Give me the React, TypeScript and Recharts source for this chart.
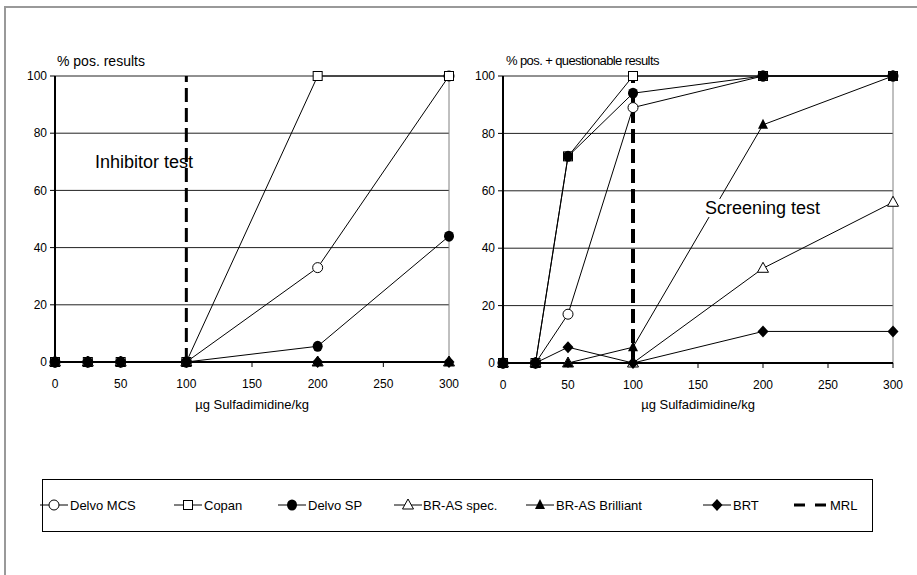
import React from "react";
import { LineChart, Line, XAxis, YAxis, CartesianGrid, ReferenceLine } from "recharts";

// doses (µg Sulfadimidine/kg)
const doses = [0, 25, 50, 100, 200, 300];
const xTicks = [0, 50, 100, 150, 200, 250, 300];
const yTicks = [0, 20, 40, 60, 80, 100];
const mrlDose = 100;

// Inhibitor test: % positive results
const inhDelvoMcs = [0, 0, 0, 0, 33, 100];
const inhCopan = [0, 0, 0, 0, 100, 100];
const inhDelvoSp = [0, 0, 0, 0, 5.5, 44];
const inhBrasSpec = [0, 0, 0, 0, 0, 0];
const inhBrasBrilliant = [0, 0, 0, 0, 0, 0];
const inhBrt = [0, 0, 0, 0, 0, 0];

// Screening test: % positive + questionable results
const scrDelvoMcs = [0, 0, 17, 89, 100, 100];
const scrCopan = [0, 0, 72, 100, 100, 100];
const scrDelvoSp = [0, 0, 72, 94, 100, 100];
const scrBrasSpec = [0, 0, 0, 0, 33, 56];
const scrBrasBrilliant = [0, 0, 0, 5.5, 83, 100];
const scrBrt = [0, 0, 5.5, 0, 11, 11];

type MarkerKind = "circleOpen" | "squareOpen" | "circleFilled" | "triOpen" | "triFilled" | "diamond";

const SERIES: { key: string; name: string; marker: MarkerKind }[] = [
  { key: "delvoMcs", name: "Delvo MCS", marker: "circleOpen" },
  { key: "copan", name: "Copan", marker: "squareOpen" },
  { key: "delvoSp", name: "Delvo SP", marker: "circleFilled" },
  { key: "brasSpec", name: "BR-AS spec.", marker: "triOpen" },
  { key: "brasBrilliant", name: "BR-AS Brilliant", marker: "triFilled" },
  { key: "brt", name: "BRT", marker: "diamond" },
];

function buildRows(cols: Record<string, number[]>) {
  return doses.map((x, i) => {
    const row: Record<string, number> = { x };
    for (const k of Object.keys(cols)) row[k] = cols[k][i];
    return row;
  });
}

const inhibitorRows = buildRows({
  delvoMcs: inhDelvoMcs,
  copan: inhCopan,
  delvoSp: inhDelvoSp,
  brasSpec: inhBrasSpec,
  brasBrilliant: inhBrasBrilliant,
  brt: inhBrt,
});

const screeningRows = buildRows({
  delvoMcs: scrDelvoMcs,
  copan: scrCopan,
  delvoSp: scrDelvoSp,
  brasSpec: scrBrasSpec,
  brasBrilliant: scrBrasBrilliant,
  brt: scrBrt,
});

function Marker({ kind, cx, cy }: { kind: MarkerKind; cx: number; cy: number }) {
  switch (kind) {
    case "circleOpen":
      return <circle cx={cx} cy={cy} r={5} fill="#fff" stroke="#000" strokeWidth={1} />;
    case "squareOpen":
      return <rect x={cx - 4.5} y={cy - 4.5} width={9} height={9} fill="#fff" stroke="#000" strokeWidth={1} />;
    case "circleFilled":
      return <ellipse cx={cx} cy={cy} rx={5} ry={5.5} fill="#000" />;
    case "triOpen":
      return (
        <polygon
          points={`${cx},${cy - 6} ${cx - 5.5},${cy + 4} ${cx + 5.5},${cy + 4}`}
          fill="#fff"
          stroke="#000"
          strokeWidth={1}
        />
      );
    case "triFilled":
      return <polygon points={`${cx},${cy - 6} ${cx - 5},${cy + 4} ${cx + 5},${cy + 4}`} fill="#000" />;
    default:
      return <polygon points={`${cx},${cy - 6} ${cx + 5.5},${cy} ${cx},${cy + 6} ${cx - 5.5},${cy}`} fill="#000" />;
  }
}

const tickStyle = { fontSize: 12, fill: "#000" };

function Panel({
  rows,
  width,
  height,
  margin,
  mrlWidth,
}: {
  rows: Record<string, number>[];
  width: number;
  height: number;
  margin: { top: number; right: number; bottom: number; left: number };
  mrlWidth: number;
}) {
  return (
    <LineChart width={width} height={height} data={rows} margin={margin}>
      <CartesianGrid vertical={false} stroke="#222" strokeWidth={1} />
      <XAxis
        type="number"
        dataKey="x"
        domain={[0, 300]}
        ticks={xTicks}
        tick={tickStyle}
        tickSize={5}
        tickMargin={12}
        height={30}
        axisLine={{ stroke: "#000", strokeWidth: 2 }}
        tickLine={{ stroke: "#000" }}
      />
      <YAxis
        type="number"
        domain={[0, 100]}
        ticks={yTicks}
        tick={tickStyle}
        tickSize={5}
        tickMargin={3}
        width={40}
        axisLine={{ stroke: "#000", strokeWidth: 2 }}
        tickLine={{ stroke: "#000" }}
      />
      <ReferenceLine x={300} stroke="#808080" strokeWidth={1} />
      <ReferenceLine x={mrlDose} stroke="#000" strokeWidth={mrlWidth} strokeDasharray="14 6" />
      {SERIES.map((s) => (
        <Line
          key={s.key}
          dataKey={s.key}
          name={s.name}
          type="linear"
          stroke="#000"
          strokeWidth={1}
          isAnimationActive={false}
          dot={(p: any) => <Marker key={`${s.key}-${p.index}`} kind={s.marker} cx={p.cx} cy={p.cy} />}
          activeDot={false}
        />
      ))}
    </LineChart>
  );
}

const LEGEND_ITEMS: { name: string; marker: MarkerKind | "mrl"; x: number; textX: number }[] = [
  { name: "Delvo MCS", marker: "circleOpen", x: 40, textX: 70 },
  { name: "Copan", marker: "squareOpen", x: 174, textX: 204 },
  { name: "Delvo SP", marker: "circleFilled", x: 278, textX: 308 },
  { name: "BR-AS spec.", marker: "triOpen", x: 394, textX: 423 },
  { name: "BR-AS Brilliant", marker: "triFilled", x: 526, textX: 556 },
  { name: "BRT", marker: "diamond", x: 703, textX: 733 },
  { name: "MRL", marker: "mrl", x: 794, textX: 830 },
];

function Legend() {
  const cy = 505;
  return (
    <svg width={917} height={575} style={{ position: "absolute", left: 0, top: 0 }}>
      <rect x={42.5} y={479.5} width={830} height={52} fill="#fff" stroke="#000" strokeWidth={1} />
      {LEGEND_ITEMS.map((it) => (
        <g key={it.name}>
          {it.marker === "mrl" ? (
            <line x1={it.x} y1={cy} x2={it.x + 32} y2={cy} stroke="#000" strokeWidth={3} strokeDasharray="11 10" />
          ) : (
            <>
              <line x1={it.x} y1={cy} x2={it.x + 28} y2={cy} stroke="#000" strokeWidth={1} />
              <Marker kind={it.marker} cx={it.x + 14} cy={cy} />
            </>
          )}
          <text x={it.textX} y={cy + 5} fontSize={13} fill="#000">
            {it.name}
          </text>
        </g>
      ))}
    </svg>
  );
}

const textAbs = (left: number, top: number, size: number, extra?: React.CSSProperties): React.CSSProperties => ({
  position: "absolute",
  left,
  top,
  fontSize: size,
  lineHeight: 1,
  whiteSpace: "nowrap",
  color: "#000",
  ...extra,
});

export default function App() {
  return (
    <div
      style={{
        position: "absolute",
        left: 0,
        top: 0,
        width: 917,
        height: 575,
        overflow: "hidden",
        background: "#fff",
        fontFamily: "'Liberation Sans', Arial, sans-serif",
      }}
    >
      <div
        style={{
          position: "absolute",
          left: 4,
          top: 6,
          width: 1000,
          height: 1000,
          border: "2px solid #999",
        }}
      />
      <div style={{ position: "absolute", left: 0, top: 0 }}>
        <Panel
          rows={inhibitorRows}
          width={470}
          height={420}
          margin={{ top: 76, right: 21, bottom: 28, left: 15 }}
          mrlWidth={3}
        />
      </div>
      <div style={{ position: "absolute", left: 460, top: 0 }}>
        <Panel
          rows={screeningRows}
          width={457}
          height={420}
          margin={{ top: 76, right: 24, bottom: 27, left: 3 }}
          mrlWidth={4}
        />
      </div>

      <div style={textAbs(57, 54, 14)}>% pos. results</div>
      <div style={textAbs(506, 54, 13, { letterSpacing: -0.6 })}>% pos. + questionable results</div>

      <div style={textAbs(252, 398, 13, { transform: "translateX(-50%)" })}>µg Sulfadimidine/kg</div>
      <div style={textAbs(698, 398, 13, { transform: "translateX(-50%)" })}>µg Sulfadimidine/kg</div>

      <div style={textAbs(95, 153, 18)}>Inhibitor test</div>
      <div style={textAbs(703, 199, 18, { background: "#fff", padding: "0 2px" })}>Screening test</div>

      <Legend />
    </div>
  );
}
